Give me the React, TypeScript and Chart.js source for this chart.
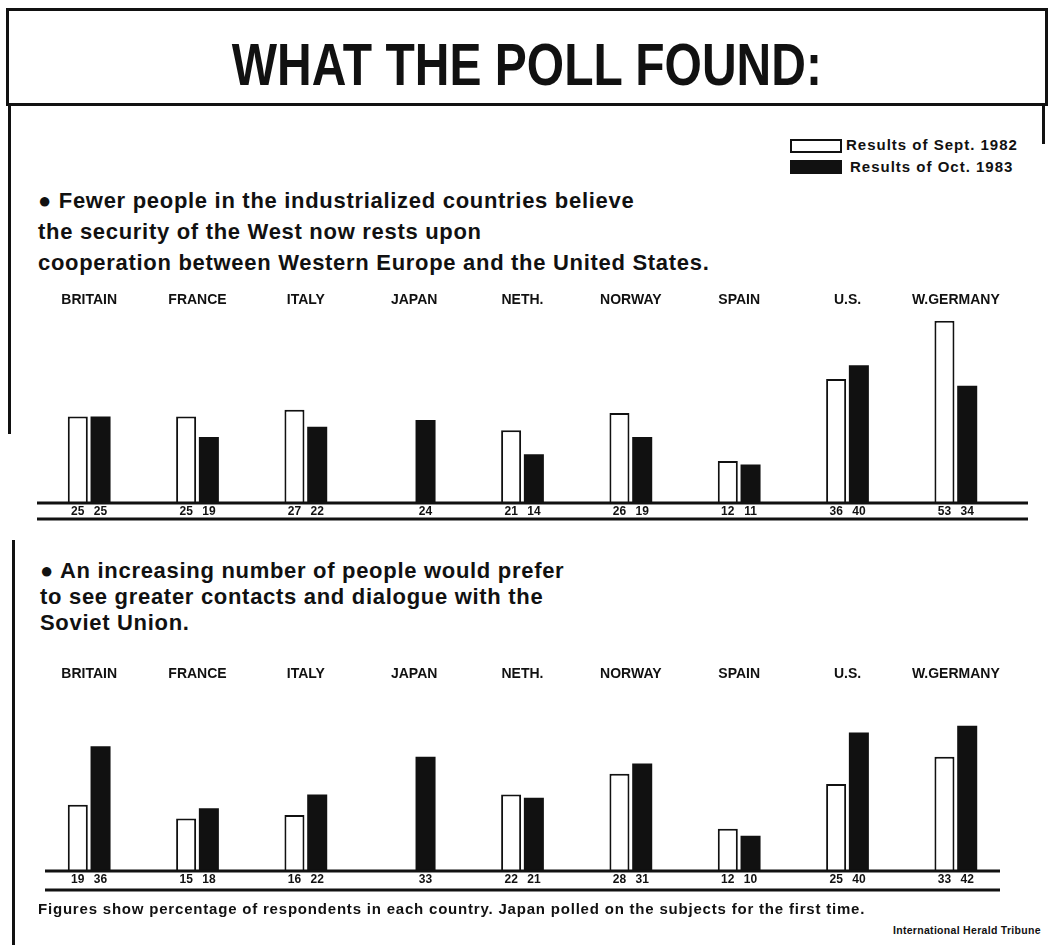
import React, { useEffect, useRef } from "react";
import { Chart, registerables } from "chart.js";

Chart.register(...registerables);

// ---- Data ----
const countries = ["BRITAIN", "FRANCE", "ITALY", "JAPAN", "NETH.", "NORWAY", "SPAIN", "U.S.", "W.GERMANY"];
const seriesLabels = ["Results of Sept. 1982", "Results of Oct. 1983"];
const securitySept1982 = [25, 25, 27, null, 21, 26, 12, 36, 53];
const securityOct1983 = [25, 19, 22, 24, 14, 19, 11, 40, 34];
const dialogueSept1982 = [19, 15, 16, null, 22, 28, 12, 25, 33];
const dialogueOct1983 = [36, 18, 22, 33, 21, 31, 10, 40, 42];

const INK = "#111";
const FONT = "'Liberation Sans', Arial, sans-serif";

const valueRowPlugin = {
  id: "valueRow",
  afterDatasetsDraw(chart: any, _args: any, opts: any) {
    const ctx = chart.ctx;
    const area = chart.chartArea;
    ctx.save();
    ctx.strokeStyle = INK;
    ctx.lineWidth = 3;
    ctx.beginPath();
    ctx.moveTo(opts.lineStart, area.bottom + 1);
    ctx.lineTo(opts.lineEnd, area.bottom + 1);
    ctx.stroke();
    ctx.beginPath();
    ctx.moveTo(opts.lineStart, area.bottom + opts.ruleGap);
    ctx.lineTo(opts.lineEnd, area.bottom + opts.ruleGap);
    ctx.stroke();
    ctx.font = `bold 12px ${FONT}`;
    ctx.textAlign = "center";
    ctx.textBaseline = "middle";
    ctx.fillStyle = INK;
    chart.data.datasets.forEach((ds: any, i: number) => {
      const meta = chart.getDatasetMeta(i);
      meta.data.forEach((el: any, j: number) => {
        const v = ds.data[j];
        if (v === null || v === undefined) return;
        ctx.fillText(String(v), el.x, area.bottom + 10);
      });
    });
    ctx.restore();
  },
};

function PollChart(props: {
  top: number;
  height: number;
  yMax: number;
  sept: (number | null)[];
  oct: (number | null)[];
  padBottom: number;
  ruleGap: number;
  lineStart: number;
  lineEnd: number;
}) {
  const ref = useRef<HTMLCanvasElement>(null);
  useEffect(() => {
    if (!ref.current) return;
    const chart = new Chart(ref.current, {
      type: "bar",
      data: {
        labels: countries,
        datasets: [
          {
            label: seriesLabels[0],
            data: props.sept,
            backgroundColor: "#ffffff",
            borderColor: INK,
            borderWidth: 2,
            barPercentage: 0.88,
            categoryPercentage: 0.42,
          },
          {
            label: seriesLabels[1],
            data: props.oct,
            backgroundColor: INK,
            borderColor: INK,
            borderWidth: 0,
            barPercentage: 0.88,
            categoryPercentage: 0.42,
          },
        ],
      },
      options: {
        animation: false,
        responsive: true,
        maintainAspectRatio: false,
        layout: { padding: { left: 35, right: 43, top: 0, bottom: props.padBottom } },
        plugins: {
          legend: { display: false },
          tooltip: { enabled: false },
          valueRow: { ruleGap: props.ruleGap, lineStart: props.lineStart, lineEnd: props.lineEnd },
        } as any,
        scales: {
          x: {
            position: "top",
            grid: { display: false },
            border: { display: false },
            ticks: {
              color: INK,
              font: { family: FONT, size: 14, weight: "bold" },
              padding: 4,
              maxRotation: 0,
              autoSkip: false,
            },
          },
          y: { display: false, min: 0, max: props.yMax },
        },
      },
      plugins: [valueRowPlugin],
    });
    return () => chart.destroy();
  }, []);
  return (
    <div style={{ position: "absolute", left: 0, top: props.top, width: 1053, height: props.height }}>
      <canvas ref={ref} />
    </div>
  );
}

const abs = (s: React.CSSProperties): React.CSSProperties => ({ position: "absolute", ...s });

export default function App() {
  const heading: React.CSSProperties = {
    fontFamily: FONT,
    fontWeight: "bold",
    fontSize: 22,
    letterSpacing: 0.7,
    color: INK,
    whiteSpace: "nowrap",
    lineHeight: "24px",
  };
  const legendText: React.CSSProperties = {
    fontFamily: FONT,
    fontWeight: "bold",
    fontSize: 15,
    letterSpacing: 1,
    color: INK,
    whiteSpace: "nowrap",
  };
  return (
    <div style={abs({ left: 0, top: 0, width: 1053, height: 951, background: "#fff", overflow: "hidden" })}>
      {/* title box */}
      <div style={abs({ left: 6, top: 8, width: 1036, height: 92, border: `3px solid ${INK}` })} />
      <div style={abs({ left: 0, top: 30, width: 1053, textAlign: "center" })}>
        <span
          style={{
            display: "inline-block",
            fontFamily: FONT,
            fontWeight: "bold",
            fontSize: 60,
            lineHeight: "70px",
            color: INK,
            transform: "scaleX(0.8)",
            transformOrigin: "center",
            whiteSpace: "nowrap",
          }}
        >
          WHAT THE POLL FOUND:
        </span>
      </div>
      {/* frame lines */}
      <div style={abs({ left: 8, top: 104, width: 3, height: 330, background: INK })} />
      <div style={abs({ left: 1042, top: 104, width: 3, height: 40, background: INK })} />
      <div style={abs({ left: 12, top: 540, width: 3, height: 405, background: INK })} />

      {/* legend */}
      <div style={abs({ left: 790, top: 139, width: 48, height: 10, border: `2px solid ${INK}`, background: "#fff" })} />
      <div style={abs({ left: 790, top: 160, width: 52, height: 14, background: INK })} />
      <div style={abs({ ...legendText, left: 846, top: 136 })}>{seriesLabels[0]}</div>
      <div style={abs({ ...legendText, left: 850, top: 158 })}>{seriesLabels[1]}</div>

      {/* first heading */}
      <div style={abs({ ...heading, left: 38, top: 189 })}>● Fewer people in the industrialized countries  believe</div>
      <div style={abs({ ...heading, left: 38, top: 220 })}>the security of the West now rests upon</div>
      <div style={abs({ ...heading, left: 38, top: 251 })}>cooperation between Western Europe and the  United States.</div>

      <PollChart
        top={288}
        height={250}
        yMax={53}
        sept={securitySept1982}
        oct={securityOct1983}
        padBottom={36}
        ruleGap={17}
        lineStart={37}
        lineEnd={1028}
      />

      {/* second heading */}
      <div style={abs({ ...heading, left: 40, top: 559 })}>● An increasing number of people would prefer</div>
      <div style={abs({ ...heading, left: 40, top: 585 })}>to see greater contacts and dialogue with the</div>
      <div style={abs({ ...heading, left: 40, top: 611 })}>Soviet Union.</div>

      <PollChart
        top={662}
        height={250}
        yMax={51}
        sept={dialogueSept1982}
        oct={dialogueOct1983}
        padBottom={42}
        ruleGap={20}
        lineStart={45}
        lineEnd={1000}
      />

      {/* footnotes */}
      <div style={abs({ left: 38, top: 900, fontFamily: FONT, fontWeight: "bold", fontSize: 15, letterSpacing: 0.8, color: INK, whiteSpace: "nowrap" })}>
        Figures show percentage of respondents in each country. Japan polled on the subjects for the first time.
      </div>
      <div style={abs({ left: 893, top: 924, fontFamily: FONT, fontWeight: "bold", fontSize: 10.5, letterSpacing: 0.3, color: INK, whiteSpace: "nowrap" })}>
        International Herald Tribune
      </div>
    </div>
  );
}
